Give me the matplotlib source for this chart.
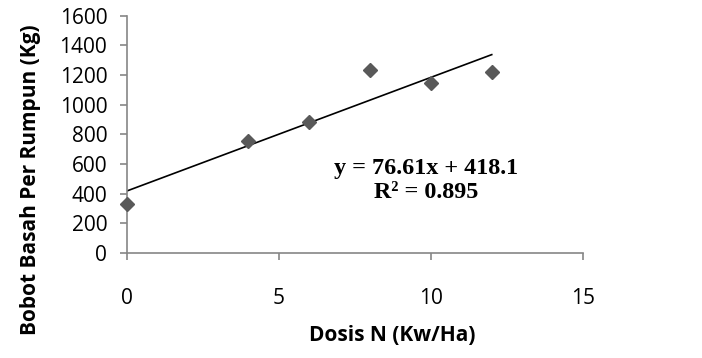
import matplotlib
matplotlib.use("Agg")
import matplotlib.pyplot as plt
import numpy as np

dosis = [0, 4, 6, 8, 10, 12]
bobot = [332, 758, 882, 1234, 1144, 1222]
x_ticks = [0, 5, 10, 15]
y_ticks = [0, 200, 400, 600, 800, 1000, 1200, 1400, 1600]
eq_text = "y = 76.61x + 418.1\nR² = 0.895"

fig = plt.figure(figsize=(7.02, 3.58), dpi=100)
ax = fig.add_axes([0.1805, 0.2933, 0.65, 0.6629])

slope, intercept = np.polyfit(dosis, bobot, 1)
xs = np.array([min(dosis), max(dosis)])
ax.plot(xs, slope * xs + intercept, color="black", lw=1.2, zorder=2)
ax.plot(dosis, bobot, linestyle="none", marker="D", markersize=7.5,
        color="#595959", markeredgecolor="#595959", zorder=3, clip_on=False)

ax.set_xlim(0, 15)
ax.set_ylim(0, 1600)
ax.set_xticks(x_ticks)
ax.set_yticks(y_ticks)
for s in ["top", "right"]:
    ax.spines[s].set_visible(False)
for s in ["left", "bottom"]:
    ax.spines[s].set_color("#868686")
    ax.spines[s].set_linewidth(1.2)
ax.tick_params(axis="both", colors="#868686", length=5, width=1.2,
               labelcolor="black", labelsize=15)
ax.tick_params(axis="x", pad=20)
ax.tick_params(axis="y", pad=9)
for lbl in ax.get_xticklabels() + ax.get_yticklabels():
    lbl.set_family("Open Sans")

ax.set_xlabel("Dosis N (Kw/Ha)", fontsize=15, fontweight="bold",
              family="Open Sans", va="center", ha="center")
ax.set_ylabel("Bobot Basah Per Rumpun (Kg)", fontsize=15, fontweight="bold",
              family="Open Sans", va="center", ha="center")
ax.xaxis.set_label_coords(0.581, -0.346)
ax.yaxis.set_label_coords(-0.21, 0.31)

ax.text(9.85, 491, eq_text, ha="center", va="center", fontsize=17.4,
        fontweight="bold", family="Liberation Serif", linespacing=1.2)

fig.savefig("out.png", dpi=100)
